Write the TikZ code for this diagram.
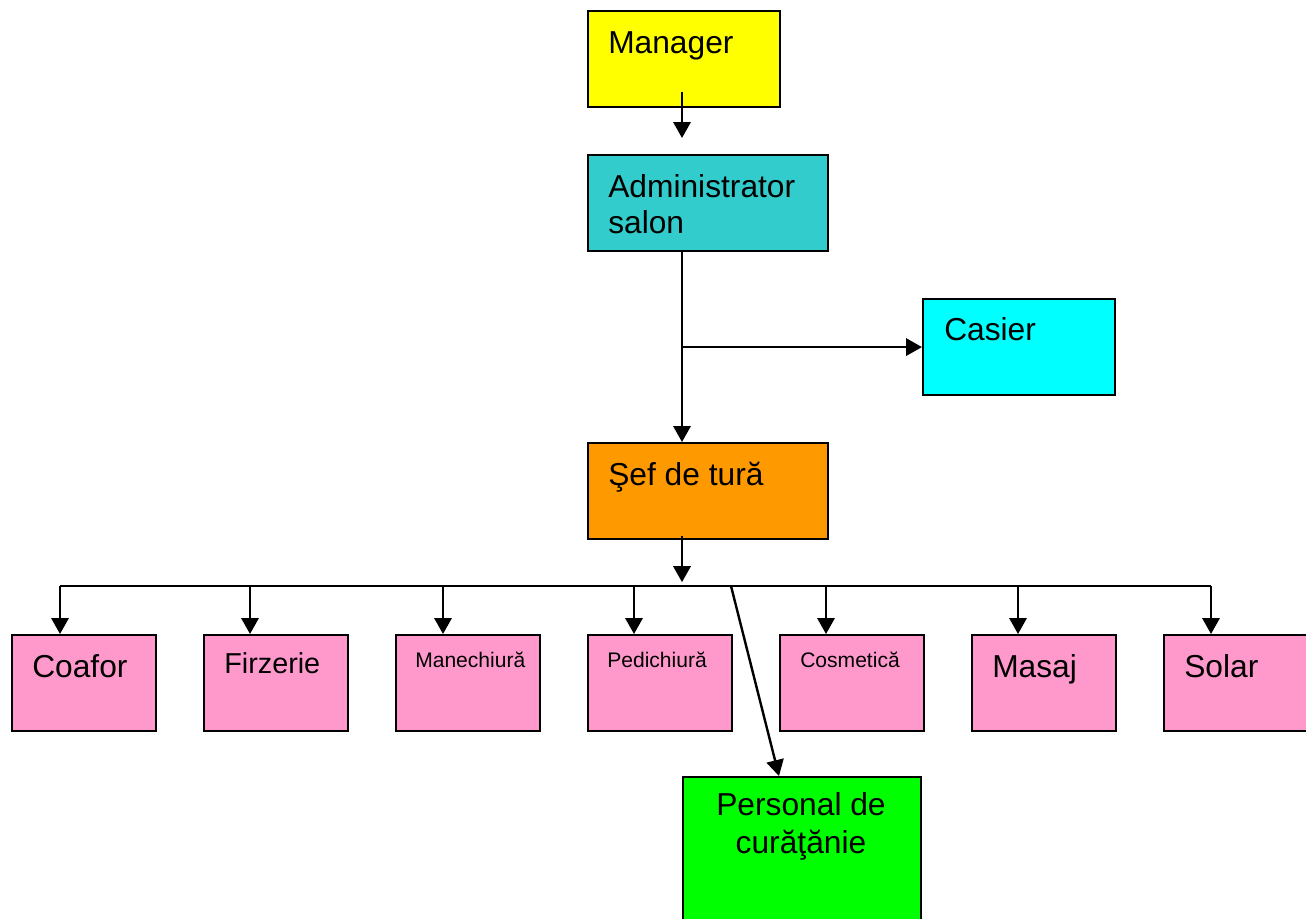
\documentclass[tikz,border=0pt]{standalone}
\usepackage{fontspec}
\setmainfont{Liberation Sans}
\usetikzlibrary{arrows.meta,calc}
\definecolor{cManager}{HTML}{FFFF00}
\definecolor{cAdmin}{HTML}{33CCCC}
\definecolor{cCasier}{HTML}{00FFFF}
\definecolor{cSef}{HTML}{FF9900}
\definecolor{cDept}{HTML}{FF99CC}
\definecolor{cClean}{HTML}{00FF00}
\begin{document}
\begin{tikzpicture}[x=0.75pt,y=-0.75pt,
  box/.style={draw, line width=1.6pt, anchor=north west, inner sep=0pt,
    minimum height=72pt},
  narrow/.style={box, minimum width=108pt},
  wide/.style={box, minimum width=180pt},
  lbl/.style={inner sep=0pt, anchor=base west, align=left,
    font={\fontsize{23.8pt}{27pt}\selectfont}},
  mid/.style={lbl, font={\fontsize{21.6pt}{27pt}\selectfont}},
  small/.style={lbl, font={\fontsize{15.8pt}{19pt}\selectfont}},
  link/.style={line width=1.8pt},
  arr/.style={link, -{Triangle[length=12pt,width=13pt]}}]
\useasboundingbox (0,0) rectangle (1306,918);
\clip (0,0) rectangle (1306,918);

% upper chain
\node[narrow, minimum width=144pt, fill=cManager] (m) at (587,10) {};
\node[wide, fill=cAdmin] (a) at (587,154) {};
\node[narrow, minimum width=144pt, fill=cCasier] (c) at (922,298) {};
\node[wide, fill=cSef] (s) at (587,442) {};

\node[lbl] (mt) at ($(m.north west)+(21,43)$) {Manager};
\node[lbl] (at) at ($(a.north west)+(21,79)$) {Administrator\\salon};
\node[lbl] (ct) at ($(c.north west)+(22,42)$) {Casier};
\node[lbl] (st) at ($(s.north west)+(21,43)$) {Şef de tură};

% departments
\node[narrow, fill=cDept] (b1) at (11,634) {};
\node[narrow, fill=cDept] (b2) at (203,634) {};
\node[narrow, fill=cDept] (b3) at (395,634) {};
\node[narrow, fill=cDept] (b4) at (587,634) {};
\node[narrow, fill=cDept] (b5) at (779,634) {};
\node[narrow, fill=cDept] (b6) at (971,634) {};
\node[narrow, fill=cDept] (b7) at (1163,634) {};

\node[lbl] (t1) at ($(b1.north west)+(21,43)$) {Coafor};
\node[mid] (t2) at ($(b2.north west)+(21,39)$) {Firzerie};
\node[small] (t3) at ($(b3.north west)+(20,33)$) {Manechiură};
\node[small] (t4) at ($(b4.north west)+(20,33)$) {Pedichiură};
\node[small] (t5) at ($(b5.north west)+(21,33)$) {Cosmetică};
\node[lbl] (t6) at ($(b6.north west)+(21,43)$) {Masaj};
\node[lbl] (t7) at ($(b7.north west)+(21,43)$) {Solar};

% cleaning staff
\node[box, minimum width=178.5pt, minimum height=130pt, fill=cClean] (p) at (682,776) {};
\node[lbl, anchor=base, align=center, font={\fontsize{23.8pt}{28.5pt}\selectfont}]
  (pt) at ($(p.north west)+(119,77)$) {Personal de\\curăţănie};

% connectors
\coordinate (mo) at ($(m.north west)+(95,82)$);
\coordinate (ai) at ($(a.north west)+(95,-16)$);
\coordinate (ao) at ($(a.south west)+(95,0)$);
\coordinate (so) at ($(s.north west)+(95,0)$);
\coordinate (fork) at (ao |- c.west);
\draw[arr] (mo) -- (ai);
\draw[arr] (ao) -- (so);
\draw[arr] (fork) -- (c.west);

\coordinate (busL) at (60,586);
\coordinate (busR) at (1211,586);
\draw[link] (busL) -- (busR);
\coordinate (sd) at ($(s.south west)+(95,-4)$);
\coordinate (st2) at ($(s.south west)+(95,42)$);
\draw[arr] (sd) -- (st2);
\foreach \b/\d in {b1/49,b2/47,b3/48,b4/47,b5/47,b6/47,b7/48}{
  \coordinate (in\b) at ($(\b.north west)+(\d,0)$);
  \draw[arr] (in\b |- busL) -- (in\b);
}
\coordinate (diag) at (731,586);
\coordinate (pin) at ($(p.north west)+(97,0)$);
\draw[arr] (diag) -- (pin);
\end{tikzpicture}
\end{document}
